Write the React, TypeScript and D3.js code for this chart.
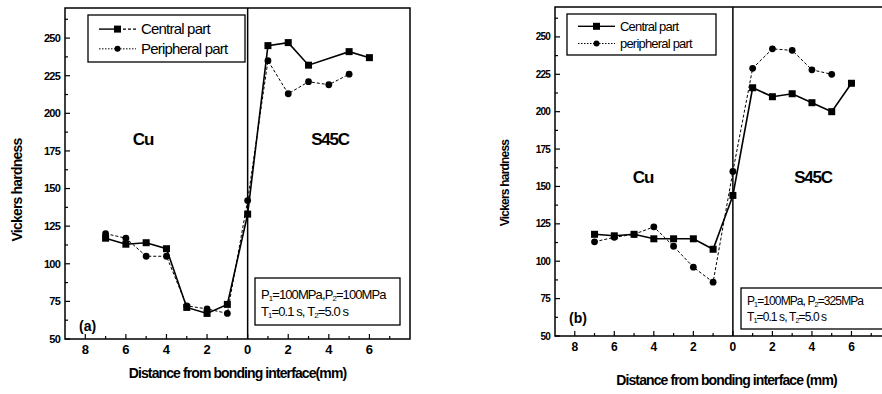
import React from 'react';
import * as d3 from 'd3';

// tick values (x is signed: Cu side negative, labels show distance)
const xTicks = [-8, -6, -4, -2, 0, 2, 4, 6];
const yTicks = [50, 75, 100, 125, 150, 175, 200, 225, 250];

// panel (a)
const aCentralX = [-7, -6, -5, -4, -3, -2, -1, 0, 1, 2, 3, 5, 6];
const aCentralHv = [117, 113, 114, 110, 71, 67, 73, 133, 245, 247, 232, 241, 237];
const aPeriphX = [-7, -6, -5, -4, -3, -2, -1, 0, 1, 2, 3, 4, 5];
const aPeriphHv = [120, 117, 105, 105, 72, 70, 67, 142, 235, 213, 221, 219, 226];

// panel (b)
const bCentralX = [-7, -6, -5, -4, -3, -2, -1, 0, 1, 2, 3, 4, 5, 6];
const bCentralHv = [118, 117, 118, 115, 115, 115, 108, 144, 216, 210, 212, 206, 200, 219];
const bPeriphX = [-7, -6, -5, -4, -3, -2, -1, 0, 1, 2, 3, 4, 5];
const bPeriphHv = [113, 116, 118, 123, 110, 96, 86, 160, 229, 242, 241, 228, 225];

const FONT = "'Liberation Sans', Arial, sans-serif";

type Cfg = {
  left: number; right: number; top: number; bottom: number;
  cx: number[]; cy: number[]; px: number[]; py: number[];
  legend: string[]; legendBox: [number, number, number, number];
  legendSolidRight: boolean;
  note: string[][]; noteBox: [number, number, number, number];
  noteSize: number; noteRows: [number, number];
  tag: string; tagPos: [number, number];
  cuPos: [number, number]; s45Pos: [number, number];
  xTitle: string; xTitleY: number; yTitleX: number; yTitleY: number;
  yTitleSize: number; tickSize: number; xTickSize: number; legendSize: number;
};

function Sub({ base, sub, rest }: { base: string; sub: string; rest: string }) {
  return (
    <>
      <tspan>{base}</tspan>
      <tspan fontSize="0.6em" dy="2">{sub}</tspan>
      <tspan dy="-2">{rest}</tspan>
    </>
  );
}

function Panel({ c }: { c: Cfg }) {
  const x = d3.scaleLinear().domain([-9, 8]).range([c.left, c.right]);
  const y = d3.scaleLinear().domain([50, 270]).range([c.bottom, c.top]);
  const mk = (xs: number[], ys: number[]) =>
    d3.line<number>().x(d => x(d)).y((d, i) => y(ys[i]))(xs) || '';
  const yMinor = d3.range(50, 270, 12.5);
  const xMinor = d3.range(-8, 8, 1);
  const [lx, ly, lw, lh] = c.legendBox;
  const [nx, ny, nw, nh] = c.noteBox;
  return (
    <g fontFamily={FONT} fontWeight="bold">
      {/* frame */}
      <rect x={c.left} y={c.top} width={c.right - c.left} height={c.bottom - c.top}
        fill="none" stroke="#000" strokeWidth={1.5} />
      <line x1={x(0)} x2={x(0)} y1={c.top} y2={c.bottom} stroke="#000" strokeWidth={1.5} />
      {/* y ticks */}
      {yMinor.map(v => (
        <line key={'ym' + v} x1={c.left} x2={c.left + (v % 25 === 0 ? 5 : 3)} y1={y(v)} y2={y(v)}
          stroke="#000" strokeWidth={1.2} />
      ))}
      {yTicks.map(v => (
        <text key={'yt' + v} x={c.left - 5} y={y(v)} dy="0.35em" textAnchor="end"
          fontSize={c.tickSize} letterSpacing={-0.8}>{v}</text>
      ))}
      {/* x ticks */}
      {xMinor.map(v => (
        <line key={'xm' + v} x1={x(v)} x2={x(v)} y1={c.bottom} y2={c.bottom - (v % 2 === 0 ? 5 : 3)}
          stroke="#000" strokeWidth={1.2} />
      ))}
      {xTicks.map(v => (
        <text key={'xt' + v} x={x(v)} y={c.bottom + 15} textAnchor="middle"
          fontSize={c.xTickSize}>{Math.abs(v)}</text>
      ))}
      {/* titles */}
      <text x={(c.left + Math.min(c.right, 882)) / 2 - (c.left > 300 ? -8 : 0)} y={c.xTitleY}
        textAnchor="middle" fontSize={14} letterSpacing={-0.9}>{c.xTitle}</text>
      <text transform={`translate(${c.yTitleX},${c.yTitleY}) rotate(-90)`} textAnchor="middle"
        fontSize={c.yTitleSize} letterSpacing={-0.8}>Vickers hardness</text>
      <text x={c.cuPos[0]} y={c.cuPos[1]} textAnchor="middle" dy="0.35em" fontSize={17}
        letterSpacing={-1}>Cu</text>
      <text x={c.s45Pos[0]} y={c.s45Pos[1]} textAnchor="middle" dy="0.35em" fontSize={17}
        letterSpacing={-1.2}>S45C</text>
      <text x={c.tagPos[0]} y={c.tagPos[1]} dy="0.35em" fontSize={14}>{c.tag}</text>
      {/* data */}
      <path d={mk(c.px, c.py)} fill="none" stroke="#000" strokeWidth={1} strokeDasharray="3,2" />
      <path d={mk(c.cx, c.cy)} fill="none" stroke="#000" strokeWidth={1.6} />
      {c.px.map((v, i) => (
        <circle key={'p' + i} cx={x(v)} cy={y(c.py[i])} r={3.4} fill="#000" />
      ))}
      {c.cx.map((v, i) => (
        <rect key={'c' + i} x={x(v) - 3.5} y={y(c.cy[i]) - 3.5} width={7} height={7} fill="#000" />
      ))}
      {/* legend */}
      <rect x={lx} y={ly} width={lw} height={lh} fill="#fff" stroke="#000" strokeWidth={1.3} />
      <line x1={lx + 11} x2={lx + 30} y1={ly + lh * 0.3} y2={ly + lh * 0.3} stroke="#000" strokeWidth={1.4} />
      <line x1={lx + 30} x2={lx + 48} y1={ly + lh * 0.3} y2={ly + lh * 0.3} stroke="#000" strokeWidth={1.4}
        strokeDasharray={c.legendSolidRight ? undefined : '3,2'} />
      <rect x={lx + 26} y={ly + lh * 0.3 - 3.5} width={7} height={7} fill="#000" />
      <line x1={lx + 11} x2={lx + 48} y1={ly + lh * 0.72} y2={ly + lh * 0.72} stroke="#000" strokeWidth={1}
        strokeDasharray="1.5,1.5" />
      <circle cx={lx + 29.5} cy={ly + lh * 0.72} r={3} fill="#000" />
      <text x={lx + 53} y={ly + lh * 0.3} dy="0.35em" fontWeight="normal" fontSize={c.legendSize}
        letterSpacing={-0.8}>{c.legend[0]}</text>
      <text x={lx + 53} y={ly + lh * 0.72} dy="0.35em" fontWeight="normal" fontSize={c.legendSize}
        letterSpacing={-0.8}>{c.legend[1]}</text>
      {/* note */}
      <rect x={nx} y={ny} width={nw} height={nh} fill="#fff" stroke="#000" strokeWidth={1.3} />
      {c.note.map((row, i) => (
        <text key={'n' + i} x={nx + 6} y={ny + c.noteRows[i]} fontWeight="normal" fontSize={c.noteSize}
          letterSpacing={-0.9}>
          <Sub base={row[0]} sub={row[1]} rest={row[2]} />
          <Sub base={row[3]} sub={row[4]} rest={row[5]} />
        </text>
      ))}
    </g>
  );
}

const panelA: Cfg = {
  left: 65, right: 410, top: 8, bottom: 339,
  cx: aCentralX, cy: aCentralHv, px: aPeriphX, py: aPeriphHv,
  legend: ['Central part', 'Peripheral part'], legendBox: [88, 15, 157, 47],
  legendSolidRight: false,
  note: [['P', '1', '=100MPa,', 'P', '2', '=100MPa'], ['T', '1', '=0.1 s,\u00a0', 'T', '2', '=5.0 s']],
  noteBox: [255, 278, 145, 47], noteSize: 13, noteRows: [21, 38],
  tag: '(a)', tagPos: [79, 326],
  cuPos: [143, 139], s45Pos: [330, 139],
  xTitle: 'Distance from bonding interface(mm)', xTitleY: 378, yTitleX: 22, yTitleY: 190,
  yTitleSize: 14, tickSize: 11, xTickSize: 13, legendSize: 15,
};

const panelB: Cfg = {
  left: 555, right: 891, top: 7, bottom: 336,
  cx: bCentralX, cy: bCentralHv, px: bPeriphX, py: bPeriphHv,
  legend: ['Central part', 'peripheral part'], legendBox: [567, 14, 149, 41],
  legendSolidRight: true,
  note: [['P', '1', '=100MPa,\u00a0', 'P', '2', '=325MPa'], ['T', '1', '=0.1 s,\u00a0', 'T', '2', '=5.0 s']],
  noteBox: [741, 288, 150, 41], noteSize: 12, noteRows: [17, 33],
  tag: '(b)', tagPos: [569, 318],
  cuPos: [643, 177], s45Pos: [813, 177],
  xTitle: 'Distance from bonding interface (mm)', xTitleY: 385, yTitleX: 509, yTitleY: 183,
  yTitleSize: 12, tickSize: 10, xTickSize: 12, legendSize: 13,
};

export default function App() {
  return (
    <svg width={882} height={394} style={{ position: 'absolute', left: 0, top: 0, background: '#fff' }}>
      <rect width={882} height={394} fill="#fff" />
      <Panel c={panelA} />
      <Panel c={panelB} />
    </svg>
  );
}
